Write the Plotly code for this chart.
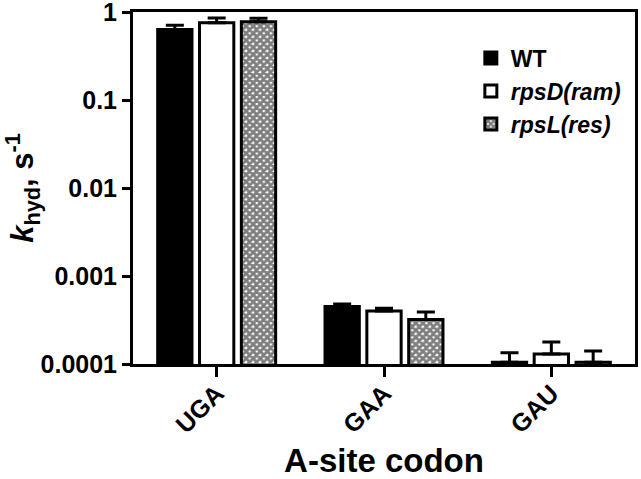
import plotly.graph_objects as go

codons = ["UGA", "GAA", "GAU"]
series = ["WT", "rpsD(ram)", "rpsL(res)"]
legend_labels = ["<b>WT</b>", "<b><i>rpsD(ram)</i></b>", "<b><i>rpsL(res)</i></b>"]

k_wt = [0.635, 4.5e-4, 1.05e-4]
k_rpsd = [0.757, 4.0e-4, 1.3e-4]
k_rpsl = [0.776, 3.2e-4, 1.05e-4]

err_wt = [0.075, 0.3e-4, 0.29e-4]
err_rpsd = [0.10, 0.3e-4, 0.48e-4]
err_rpsl = [0.075, 0.7e-4, 0.36e-4]

y_ticks = [1e-4, 1e-3, 1e-2, 1e-1, 1]
y_ticktext = ["0.0001", "0.001", "0.01", "0.1", "1"]

FONT = "Liberation Sans, Arial, sans-serif"

styles = [
    dict(color="black", pattern=None),
    dict(color="white", pattern=None),
    dict(color="white", pattern=dict(shape="x", size=5, solidity=0.8,
                                      fgcolor="black", bgcolor="white")),
]

fig = go.Figure()
for name, label, vals, errs, st in zip(series, legend_labels,
                                       [k_wt, k_rpsd, k_rpsl],
                                       [err_wt, err_rpsd, err_rpsl], styles):
    marker = dict(color=st["color"], line=dict(color="black", width=3))
    if st["pattern"]:
        marker["pattern"] = st["pattern"]
    fig.add_trace(go.Bar(
        x=codons, y=vals, name=label,
        marker=marker,
        error_y=dict(type="data", symmetric=False, array=errs,
                     arrayminus=[0] * len(errs),
                     color="black", thickness=3, width=9),
    ))

fig.update_layout(
    width=641, height=479,
    margin=dict(l=133, r=6, t=12, b=115),
    paper_bgcolor="white", plot_bgcolor="white",
    barmode="group", bargap=0.25, bargroupgap=0.18,
    font=dict(family=FONT, color="black"),
    showlegend=True,
    legend=dict(x=0.673, y=0.93, xanchor="left", yanchor="top",
                font=dict(size=23, family=FONT), bgcolor="rgba(0,0,0,0)"),
    xaxis=dict(
        showline=True, linecolor="black", linewidth=3, mirror=True,
        ticks="outside", ticklen=10, tickwidth=3, tickcolor="black",
        tickangle=-45, tickfont=dict(size=25, family=FONT, weight="bold"),
        ticklabelstandoff=-8,
        title=dict(text="<b>A-site codon</b>", font=dict(size=33), standoff=14),
        range=[-0.5, 2.5], automargin=False,
    ),
    yaxis=dict(
        type="log", range=[-4, 0.002],
        showline=True, linecolor="black", linewidth=3, mirror=True,
        showgrid=False, zeroline=False,
        ticks="outside", ticklen=8, tickwidth=3, tickcolor="black",
        tickvals=y_ticks, ticktext=y_ticktext, ticklabeloverflow="allow",
        tickfont=dict(size=25, family=FONT, weight="bold"),
        title=dict(text="<b><i>k</i><sub>hyd</sub>, s<sup>-1</sup></b>",
                   font=dict(size=31), standoff=6),
        automargin=False,
    ),
)

fig.write_html("out.html", config={"displayModeBar": False},
               post_script="document.body.style.margin='0';"
                           "document.body.style.overflow='hidden';")
